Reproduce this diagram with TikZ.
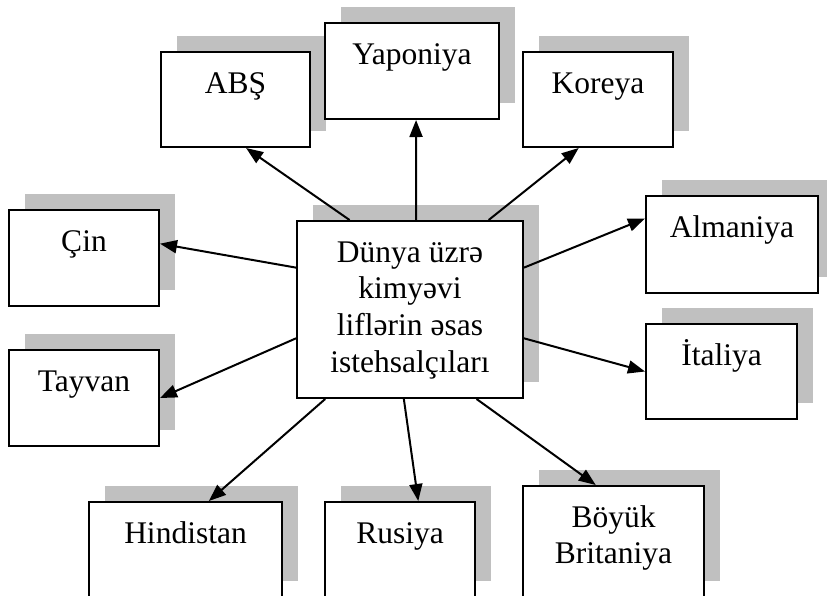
\documentclass[tikz,border=0pt]{standalone}
\usepackage{fontspec}
\setmainfont{Liberation Serif}
\usetikzlibrary{arrows.meta,calc,shadows}
\definecolor{shadowgray}{RGB}{192,192,192}
\newcommand{\boxtext}[1]{\begin{tabular}[t]{@{}c@{}}#1\end{tabular}}
\tikzset{
	land/.style={draw, line width=2pt, fill=white, anchor=north west, inner sep=0pt,
		text height=41pt, font=\fontsize{31.5}{36.7}\selectfont,
		general shadow={fill=shadowgray, shadow xshift=16pt, shadow yshift=16pt}},
	link/.style={line width=2pt, -{Triangle[length=17pt,width=13pt]}}
}
\begin{document}
\begin{tikzpicture}[x=1pt, y=-1pt]
		\useasboundingbox (0,0) rectangle (827,595);
		% Boxes: name/left/top/width/height/text
		\foreach \name/\x/\y/\w/\h/\txt in {
				abs/160/51/149/95/{ABŞ},
				yap/324/22/174/96/{Yaponiya},
				kor/522/51/150/95/{Koreya},
				alm/645/195/172/97/{Almaniya},
				cin/8/209/150/96/{Çin},
				tay/8/349/150/96/{Tayvan},
				ita/645/323/151/95/{İtaliya},
				hin/88/501/193/95/{Hindistan},
				rus/324/501/150/95/{Rusiya},
				bri/522/485/181/111/{Böyük\\Britaniya},
				hub/296/220/226/177/{Dünya üzrə\\kimyəvi\\liflərin əsas\\istehsalçıları}}
			\node [land, minimum width=\w pt, text depth=\h pt - 41pt] (\name) at (\x,\y) {\boxtext{\txt}};
		% Arrows from the centre box
		\draw [link] ($(hub.north west)!.235!(hub.north east)$) -- ($(abs.south west)!.57!(abs.south east)$);
		\draw [link] ($(hub.north west)!.527!(hub.north east)$) -- ($(yap.south west)!.523!(yap.south east)$);
		\draw [link] ($(hub.north west)!.845!(hub.north east)$) -- ($(kor.south west)!.373!(kor.south east)$);
		\draw [link] ($(hub.north east)!.266!(hub.south east)$) -- ($(alm.north west)!.237!(alm.south west)$);
		\draw [link] ($(hub.north west)!.266!(hub.south west)$) -- ($(cin.north east)!.354!(cin.south east)$);
		\draw [link] ($(hub.north west)!.661!(hub.south west)$) -- (tay.east);
		\draw [link] ($(hub.north east)!.661!(hub.south east)$) -- (ita.west);
		\draw [link] ($(hub.south west)!.128!(hub.south east)$) -- ($(hin.north west)!.62!(hin.north east)$);
		\draw [link] ($(hub.south west)!.473!(hub.south east)$) -- ($(rus.north west)!.62!(rus.north east)$);
		\draw [link] ($(hub.south west)!.792!(hub.south east)$) -- ($(bri.north west)!.403!(bri.north east)$);
	\end{tikzpicture}
\end{document}
